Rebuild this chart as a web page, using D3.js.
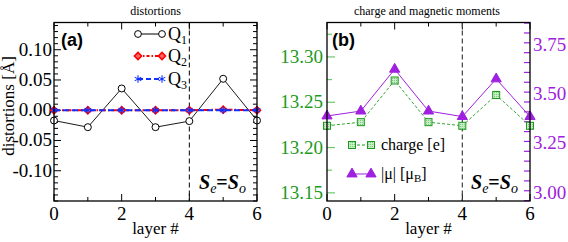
<!DOCTYPE html>
<html>
<head>
<meta charset="utf-8">
<script src="https://cdn.jsdelivr.net/npm/d3@7"></script>
<style>
  body { margin: 0; background: #fff; }
  svg { display: block; }
</style>
</head>
<body>
<svg id="chart" width="568" height="242" font-family="'Liberation Serif', 'Times New Roman', Times, serif"></svg>
<script>
// layer index on both panels
const layers = [0, 1, 2, 3, 4, 5, 6];

// panel (a): distortions in Angstrom
const q1 = [-0.017, -0.028, 0.036, -0.028, -0.018, 0.052, -0.017];
const q2 = [0.0, 0.0, 0.0, 0.0, 0.0, 0.001, 0.0];
const q3 = [0.0, 0.0, 0.0, 0.0, 0.0, 0.0, 0.0];
const distTicks = [-0.10, -0.05, 0.00, 0.05, 0.10];

// panel (b): charge [e] and |mu| [mu_B]
const charge = [13.224, 13.228, 13.274, 13.228, 13.224, 13.258, 13.224];
const moment = [3.389, 3.414, 3.626, 3.414, 3.386, 3.577, 3.386];
const chargeTicks = [13.15, 13.20, 13.25, 13.30];
const momentTicks = [3.00, 3.25, 3.50, 3.75];
const xTicks = [0, 2, 4, 6];
const boundary = 4;

const serif = "'Liberation Serif', 'Times New Roman', serif";
const sans = "'Liberation Sans', Arial, sans-serif";
const green = "#1c9a1c", greenLight = "#6cc86c", purple = "#a020e0";

const svg = d3.select("#chart");
const defs = svg.append("defs");
const pat = defs.append("pattern").attr("id", "hatch")
  .attr("width", 2).attr("height", 2).attr("patternUnits", "userSpaceOnUse");
pat.append("rect").attr("width", 2).attr("height", 2).attr("fill", "#c8ecc8");
pat.append("rect").attr("width", 1).attr("height", 1).attr("fill", "#7ccc7c");

function txt(g, x, y, s, size) {
  return g.append("text").attr("x", x).attr("y", y).attr("font-family", serif)
    .attr("font-size", size).text(s);
}

function frame(g, x, L, R, T, B) {
  // x ticks top and bottom, pointing inward
  d3.range(0, 6.01, 1).forEach(v => {
    const len = xTicks.includes(v) ? 7 : 4;
    g.append("line").attr("x1", x(v)).attr("x2", x(v)).attr("y1", B).attr("y2", B - len).attr("stroke", "#000");
    g.append("line").attr("x1", x(v)).attr("x2", x(v)).attr("y1", T).attr("y2", T + len).attr("stroke", "#000");
  });
  xTicks.forEach(v => {
    txt(g, x(v), 220, v, 19).attr("text-anchor", "middle");
  });
  txt(g, (L + R) / 2, 234, "layer #", 17).attr("text-anchor", "middle");
}

function sEqS(g, x, y) {
  const t = g.append("text").attr("x", x).attr("y", y).attr("font-size", 20).attr("font-family", serif)
    .attr("font-weight", "bold").attr("font-style", "italic");
  t.append("tspan").text("S");
  t.append("tspan").attr("font-size", 14).attr("dy", 4).attr("font-weight", "normal").text("e");
  t.append("tspan").attr("dy", -4).attr("font-style", "normal").text("=");
  t.append("tspan").text("S");
  t.append("tspan").attr("font-size", 14).attr("dy", 4).attr("font-weight", "normal").text("o");
}

// square turned by 45 degrees
const diamond = d3.symbol().type(d3.symbolSquare).size(26);
const diamondAt = (px, py) => `translate(${px},${py}) rotate(45)`;

// ---------- panel (a) ----------
{
  const L = 54, R = 257, T = 22.5, B = 201;
  const g = svg.append("g");
  const x = d3.scaleLinear().domain([0, 6]).range([L, R]);
  const y = d3.scaleLinear().domain([-0.15, 0.145]).range([B, T]);

  txt(g, (L + R) / 2, 15, "distortions", 12).attr("text-anchor", "middle");

  d3.range(-0.15, 0.1451, 0.01).forEach(v => {
    const major = distTicks.some(t => Math.abs(t - v) < 1e-6);
    const len = major ? 7 : 4;
    g.append("line").attr("x1", L).attr("x2", L + len).attr("y1", y(v)).attr("y2", y(v)).attr("stroke", "#000");
    g.append("line").attr("x1", R).attr("x2", R - len).attr("y1", y(v)).attr("y2", y(v)).attr("stroke", "#000");
  });
  distTicks.forEach(v => {
    txt(g, L - 2, y(v) + 6, v.toFixed(2), 19).attr("text-anchor", "end");
  });
  txt(g, 0, 0, "distortions [Å]", 17).attr("transform", "translate(14,106) rotate(-90)")
    .attr("text-anchor", "middle");

  frame(g, x, L, R, T, B);

  g.append("line").attr("x1", x(boundary)).attr("x2", x(boundary)).attr("y1", T).attr("y2", B)
    .attr("stroke", "#000").attr("stroke-dasharray", "5,3");

  const line = d3.line().x((d, i) => x(layers[i])).y(d => y(d));
  g.append("path").datum(q1).attr("d", line).attr("fill", "none").attr("stroke", "#000").attr("stroke-width", 0.9);
  g.selectAll(".q1").data(q1).join("circle").attr("cx", (d, i) => x(layers[i])).attr("cy", d => y(d))
    .attr("r", 3.5).attr("fill", "#fff").attr("stroke", "#000");

  g.append("path").datum(q2).attr("d", line).attr("fill", "none").attr("stroke", "#f00").attr("stroke-width", 2)
    .attr("stroke-dasharray", "6,2,1.5,2");
  g.selectAll(".q2").data(q2).join("path").attr("d", diamond)
    .attr("transform", (d, i) => diamondAt(x(layers[i]), y(d)))
    .attr("fill", "#f66").attr("stroke", "#f00").attr("stroke-width", 1.5);

  g.append("path").datum(q3).attr("d", line).attr("fill", "none").attr("stroke", "#1030ff").attr("stroke-width", 2)
    .attr("stroke-dasharray", "6,3");
  const star = d3.symbol().type(d3.symbolAsterisk).size(40);
  g.selectAll(".q3").data(q3).join("path").attr("d", star)
    .attr("transform", (d, i) => `translate(${x(layers[i])},${y(d)})`)
    .attr("fill", "none").attr("stroke", "#1030ff").attr("stroke-width", 1.1);

  g.append("rect").attr("x", L).attr("y", T).attr("width", R - L).attr("height", B - T)
    .attr("fill", "none").attr("stroke", "#000").attr("stroke-width", 1.3);

  g.append("text").attr("x", 61).attr("y", 46).attr("font-family", sans)
    .attr("font-weight", "bold").attr("font-size", 18).text("(a)");

  // legend
  const rows = [{ sub: "1", y: 34 }, { sub: "2", y: 56 }, { sub: "3", y: 79 }];
  const lx1 = 138, lx2 = 162;
  g.append("line").attr("x1", lx1).attr("x2", lx2).attr("y1", 34).attr("y2", 34).attr("stroke", "#000");
  [lx1, lx2].forEach(v => g.append("circle").attr("cx", v).attr("cy", 34).attr("r", 3.4).attr("fill", "#fff").attr("stroke", "#000"));
  g.append("line").attr("x1", lx1).attr("x2", lx2).attr("y1", 56).attr("y2", 56).attr("stroke", "#f00")
    .attr("stroke-width", 2).attr("stroke-dasharray", "3,2,1.5,2");
  [lx1, lx2].forEach(v => g.append("path").attr("d", diamond).attr("transform", diamondAt(v, 56))
    .attr("fill", "#f66").attr("stroke", "#f00").attr("stroke-width", 1.5));
  g.append("line").attr("x1", lx1).attr("x2", lx2).attr("y1", 79).attr("y2", 79).attr("stroke", "#1030ff")
    .attr("stroke-width", 2).attr("stroke-dasharray", "5,3");
  [lx1, lx2].forEach(v => g.append("path").attr("d", star).attr("transform", `translate(${v},79)`)
    .attr("fill", "none").attr("stroke", "#1030ff").attr("stroke-width", 1.1));
  rows.forEach(r => {
    const t = txt(g, 168, r.y + 6, "", 18);
    t.append("tspan").text("Q");
    t.append("tspan").attr("font-size", 12).attr("dy", 4).text(r.sub);
  });

  sEqS(g, 199, 189);
}

// ---------- panel (b) ----------
{
  const L = 327, R = 530, T = 22.5, B = 201;
  const g = svg.append("g");
  const x = d3.scaleLinear().domain([0, 6]).range([L, R]);
  const yc = d3.scaleLinear().domain([13.141, 13.338]).range([B, T]);
  const ym = d3.scaleLinear().domain([2.958, 3.863]).range([B, T]);

  txt(g, 427, 15, "charge and magnetic moments", 12).attr("text-anchor", "middle");

  d3.range(13.15, 13.3376, 0.025).forEach((v, i) => {
    const len = i % 2 === 0 ? 8 : 5;
    g.append("line").attr("x1", L).attr("x2", L + len).attr("y1", yc(v)).attr("y2", yc(v))
      .attr("stroke", greenLight).attr("stroke-width", 1.2);
  });
  chargeTicks.forEach(v => {
    txt(g, L - 4, yc(v) + 6, v.toFixed(2), 19).attr("text-anchor", "end").attr("fill", green);
  });

  d3.range(2.96, 3.8601, 0.05).forEach(v => {
    const major = momentTicks.some(t => Math.abs(t - v) < 1e-6);
    const len = major ? 9 : 6;
    g.append("line").attr("x1", R).attr("x2", R - len).attr("y1", ym(v)).attr("y2", ym(v))
      .attr("stroke", purple).attr("stroke-width", 1.2);
  });
  momentTicks.forEach(v => {
    txt(g, R + 3, ym(v) + 6, v.toFixed(2), 19).attr("fill", purple);
  });

  frame(g, x, L, R, T, B);

  g.append("line").attr("x1", x(boundary)).attr("x2", x(boundary)).attr("y1", T).attr("y2", B)
    .attr("stroke", "#444").attr("stroke-dasharray", "5,3").attr("stroke-width", 1.2);

  const lineC = d3.line().x((d, i) => x(layers[i])).y(d => yc(d));
  const lineM = d3.line().x((d, i) => x(layers[i])).y(d => ym(d));
  g.append("path").datum(charge).attr("d", lineC).attr("fill", "none").attr("stroke", green)
    .attr("stroke-width", 0.9).attr("stroke-dasharray", "3,2");
  g.append("path").datum(moment).attr("d", lineM).attr("fill", "none").attr("stroke", purple).attr("stroke-width", 1);

  const tri = d3.symbol().type(d3.symbolTriangle).size(45);
  g.selectAll(".m").data(moment).join("path").attr("d", tri)
    .attr("transform", (d, i) => `translate(${x(layers[i])},${ym(d)})`)
    .attr("fill", purple).attr("stroke", purple);
  g.selectAll(".c").data(charge).join("rect")
    .attr("x", (d, i) => x(layers[i]) - 3.5).attr("y", d => yc(d) - 3.5).attr("width", 7).attr("height", 7)
    .attr("fill", "url(#hatch)").attr("stroke", green);

  g.append("rect").attr("x", L).attr("y", T).attr("width", R - L).attr("height", B - T)
    .attr("fill", "none").attr("stroke", "#000").attr("stroke-width", 1.3);

  g.append("text").attr("x", 332).attr("y", 46).attr("font-family", sans)
    .attr("font-weight", "bold").attr("font-size", 18).text("(b)");

  // legend
  const lx1 = 352, lx2 = 371;
  g.append("line").attr("x1", lx1).attr("x2", lx2).attr("y1", 145).attr("y2", 145).attr("stroke", green)
    .attr("stroke-dasharray", "3,2");
  [lx1, lx2].forEach(v => g.append("rect").attr("x", v - 3.5).attr("y", 141.5).attr("width", 7).attr("height", 7)
    .attr("fill", "url(#hatch)").attr("stroke", green));
  txt(g, 381, 150, "charge [e]", 16);

  g.append("line").attr("x1", lx1).attr("x2", lx2).attr("y1", 174).attr("y2", 174).attr("stroke", purple);
  [lx1, lx2].forEach(v => g.append("path").attr("d", tri).attr("transform", `translate(${v},174)`)
    .attr("fill", purple).attr("stroke", purple));
  const mt = txt(g, 381, 179, "", 16);
  mt.append("tspan").text("|μ| [μ");
  mt.append("tspan").attr("font-size", 11).attr("dy", 3).text("B");
  mt.append("tspan").attr("dy", -3).text("]");

  sEqS(g, 471, 189);
}
</script>
</body>
</html>
